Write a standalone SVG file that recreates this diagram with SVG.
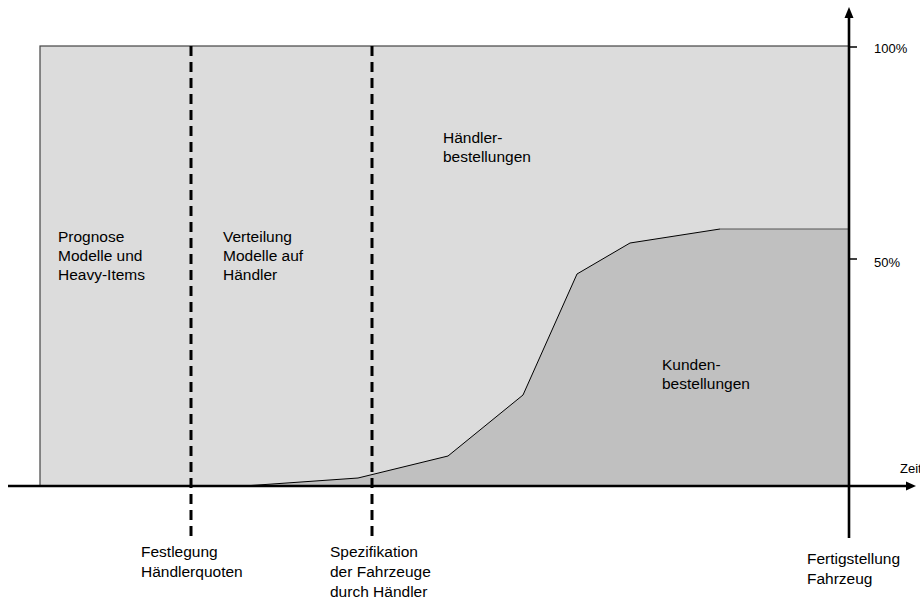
<svg xmlns="http://www.w3.org/2000/svg" width="920" height="601" viewBox="0 0 920 601">
  <style>
    text { font-family: "Liberation Sans", Arial, sans-serif; fill: #000; }
    .lbl { font-size: 15.5px; }
    .pct { font-size: 13px; }
    .axis { stroke: #000; stroke-width: 2.6; fill: none; }
    .milestone { stroke: #000; stroke-width: 3; stroke-dasharray: 10 6; fill: none; }
  </style>

  <!-- Dealer order area (full 100% band) -->
  <g id="haendler-area">
    <rect x="40" y="46" width="809" height="440" fill="#dcdcdc" stroke="#444" stroke-width="1.2"/>
  </g>

  <!-- Customer order area under the curve -->
  <g id="kunden-area">
    <polygon points="244,486 358,478 448,456 523,395 577,274 630,243 720,229 849,229 849,486" fill="#c0c0c0"/>
    <polyline points="244,486 358,478 448,456 523,395 577,274 630,243 720,229" fill="none" stroke="#000" stroke-width="1"/>
    <line x1="720" y1="229" x2="849" y2="229" stroke="#555" stroke-width="1.2"/>
  </g>

  <!-- Connectors: axes and milestone lines -->
  <g id="connectors">
    <line class="milestone" x1="191" y1="46" x2="191" y2="538"/>
    <line class="milestone" x1="372" y1="46" x2="372" y2="538"/>
    <line class="axis" x1="8" y1="486" x2="908" y2="486"/>
    <polygon points="916,486 906,481.5 906,490.5" fill="#000"/>
    <line class="axis" x1="849" y1="538" x2="849" y2="16"/>
    <polygon points="849,7 844.5,18 853.5,18" fill="#000"/>
    <line x1="849" y1="47" x2="857" y2="47" stroke="#000" stroke-width="1.5"/>
    <line x1="849" y1="259" x2="857" y2="259" stroke="#000" stroke-width="1.5"/>
  </g>

  <g id="label-100">
    <text class="pct" x="874" y="53">100%</text>
  </g>
  <g id="label-50">
    <text class="pct" x="874" y="267">50%</text>
  </g>
  <g id="label-zeit">
    <text x="900" y="473" style="font-size:13px">Zeit</text>
  </g>

  <g id="phase-prognose">
    <text class="lbl" x="58" y="242">Prognose</text>
    <text class="lbl" x="58" y="261">Modelle und</text>
    <text class="lbl" x="58" y="280">Heavy-Items</text>
  </g>
  <g id="phase-verteilung">
    <text class="lbl" x="223" y="242">Verteilung</text>
    <text class="lbl" x="223" y="261">Modelle auf</text>
    <text class="lbl" x="223" y="280">Händler</text>
  </g>
  <g id="haendlerbestellungen">
    <text class="lbl" x="443" y="143">Händler-</text>
    <text class="lbl" x="443" y="162">bestellungen</text>
  </g>
  <g id="kundenbestellungen">
    <text class="lbl" x="662" y="370">Kunden-</text>
    <text class="lbl" x="662" y="389">bestellungen</text>
  </g>

  <g id="ms-festlegung">
    <text class="lbl" x="141" y="557">Festlegung</text>
    <text class="lbl" x="141" y="577">Händlerquoten</text>
  </g>
  <g id="ms-spezifikation">
    <text class="lbl" x="330" y="557">Spezifikation</text>
    <text class="lbl" x="330" y="577">der Fahrzeuge</text>
    <text class="lbl" x="330" y="597">durch Händler</text>
  </g>
  <g id="ms-fertigstellung">
    <text class="lbl" x="807" y="564">Fertigstellung</text>
    <text class="lbl" x="807" y="584">Fahrzeug</text>
  </g>
</svg>
